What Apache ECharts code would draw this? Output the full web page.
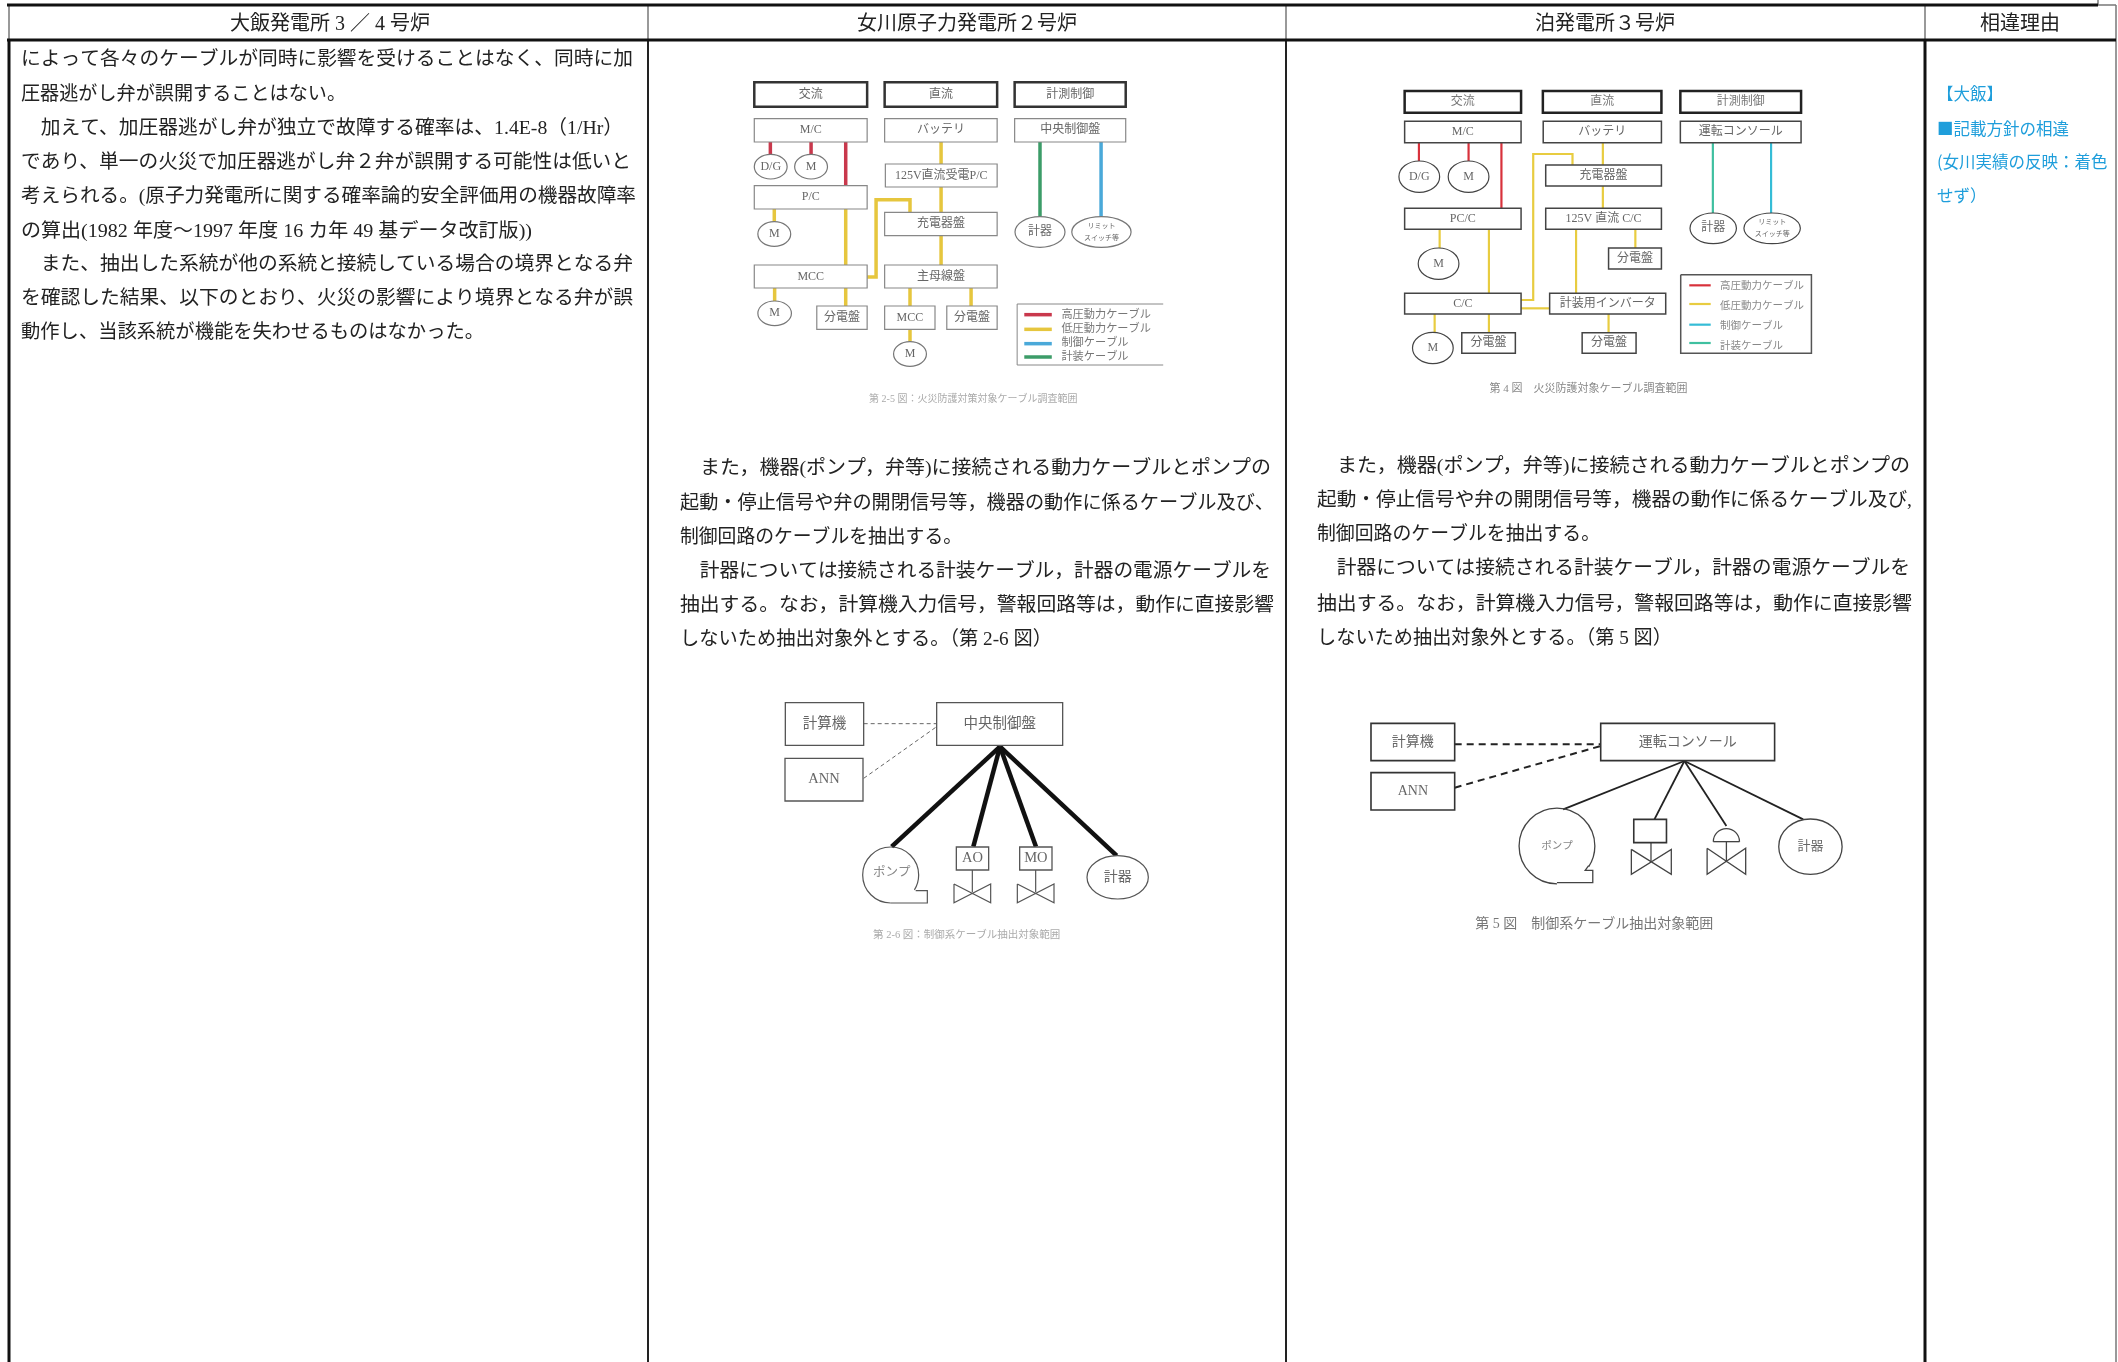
<!DOCTYPE html>
<html>
<head>
<meta charset="utf-8">
<title>比較表</title>
<script src="https://cdn.jsdelivr.net/npm/echarts@6/dist/echarts.min.js"></script>
<style>
html, body { margin: 0; padding: 0; background: #fff; }
#container { width: 2118px; height: 1362px; }
</style>
</head>
<body>
<div id="container"></div>
<script>
window.onload = function() {

var FONT = '"Liberation Serif", "Noto Sans CJK JP", sans-serif';
var CJK = '"Noto Sans CJK JP", sans-serif';

// ---- page text
var headers = [
  ['大飯発電所 3 ／ 4 号炉', 330, 23],
  ['女川原子力発電所２号炉', 967, 23],
  ['泊発電所３号炉', 1605, 23],
  ['相違理由', 2020, 23]
];
var oiLines = [
  ['によって各々のケーブルが同時に影響を受けることはなく、同時に加', 21, 58, 633],
  ['圧器逃がし弁が誤開することはない。', 21, 93, 346],
  ['　加えて、加圧器逃がし弁が独立で故障する確率は、1.4E-8（1/Hr）', 21, 127, 623],
  ['であり、単一の火災で加圧器逃がし弁２弁が誤開する可能性は低いと', 21, 161, 631],
  ['考えられる。(原子力発電所に関する確率論的安全評価用の機器故障率', 21, 195, 636],
  ['の算出(1982 年度～1997 年度 16 カ年 49 基データ改訂版))', 21, 230, 532],
  ['　また、抽出した系統が他の系統と接続している場合の境界となる弁', 21, 263, 633],
  ['を確認した結果、以下のとおり、火災の影響により境界となる弁が誤', 21, 297, 633],
  ['動作し、当該系統が機能を失わせるものはなかった。', 21, 331, 484]
];
var onagawaLines = [
  ['　また，機器(ポンプ，弁等)に接続される動力ケーブルとポンプの', 680, 467, 1271],
  ['起動・停止信号や弁の開閉信号等，機器の動作に係るケーブル及び、', 680, 502, 1274],
  ['制御回路のケーブルを抽出する。', 680, 536, 962],
  ['　計器については接続される計装ケーブル，計器の電源ケーブルを', 680, 570, 1271],
  ['抽出する。なお，計算機入力信号，警報回路等は，動作に直接影響', 680, 604, 1274],
  ['しないため抽出対象外とする。（第 2-6 図）', 680, 638, 1052]
];
var tomariLines = [
  ['　また，機器(ポンプ，弁等)に接続される動力ケーブルとポンプの', 1317, 465, 1910],
  ['起動・停止信号や弁の開閉信号等，機器の動作に係るケーブル及び,', 1317, 499, 1912],
  ['制御回路のケーブルを抽出する。', 1317, 533, 1600],
  ['　計器については接続される計装ケーブル，計器の電源ケーブルを', 1317, 567, 1910],
  ['抽出する。なお，計算機入力信号，警報回路等は，動作に直接影響', 1317, 603, 1912],
  ['しないため抽出対象外とする。（第 5 図）', 1317, 637, 1672]
];
var reasonLines = [
  ['【大飯】', 1937, 93],
  ['■記載方針の相違', 1937, 128],
  ['(女川実績の反映：着色', 1937, 161],
  ['せず）', 1937, 195]
];

// ---- table rules: x1, y1, x2, y2
var heavyRules = [
  [7, 5, 2098, 5], [7, 40, 2116, 40],
  [9, 40, 9, 1362], [1925, 40, 1925, 1362]
];
var midRules = [[648, 40, 648, 1362], [1286, 40, 1286, 1362]];
var greyRules = [
  [9, 5, 9, 40], [648, 5, 648, 40], [1286, 5, 1286, 40], [1925, 5, 1925, 40],
  [2116, 5, 2116, 1362], [2098, 0, 2098, 5], [2098, 5, 2116, 5]
];

// ---- figure 2-5 (onagawa)
var a_heavyBoxes = [[152, 97, 468, 170, '交流'], [517, 97, 832, 170, '直流'], [881, 97, 1192, 170, '計測制御']];
var a_boxes = [
  [152, 206, 468, 276, 'M/C'], [517, 206, 832, 276, 'バッテリ'], [881, 206, 1192, 276, '中央制御盤'],
  [519, 342, 832, 411, '125V直流受電P/C'], [152, 407, 468, 477, 'P/C'], [517, 487, 832, 557, '充電器盤'],
  [152, 645, 468, 714, 'MCC'], [517, 645, 832, 714, '主母線盤'], [327, 768, 468, 838, '分電盤'],
  [517, 768, 658, 838, 'MCC'], [691, 768, 832, 838, '分電盤']
];
var a_ellipses = [
  [198, 350, 46, 37, 'D/G'], [311, 350, 46, 37, 'M'], [208, 552, 46, 37, 'M'], [952, 546, 70, 46, '計器'],
  [1124, 546, 83, 46, 'リミット\nスイッチ等'], [209, 790, 47, 37, 'M'], [588, 912, 46, 37, 'M']
];
var a_red = [[197, 276, 197, 313], [311, 276, 311, 313], [408, 276, 408, 407], [908, 794, 985, 794]];
var a_yellow = [
  [208, 477, 208, 515], [408, 477, 408, 645], [468, 681, 493, 681, 493, 449, 588, 449, 588, 487],
  [675, 276, 675, 342], [675, 411, 675, 487], [675, 557, 675, 645], [209, 714, 209, 753],
  [408, 714, 408, 768], [588, 714, 588, 768], [759, 714, 759, 768], [588, 838, 588, 875], [908, 838, 985, 838]
];
var a_blue = [[1123, 276, 1123, 500], [908, 881, 985, 881]];
var a_green = [[952, 276, 952, 500], [908, 921, 985, 921]];
var a_frame = [[1297, 762, 888, 762, 888, 945, 1297, 945]];
var a_labels = [
  ['高圧動力ケーブル', 1012, 794], ['低圧動力ケーブル', 1012, 836], ['制御ケーブル', 1012, 878], ['計装ケーブル', 1012, 920]
];
var a_caption = ['第 2-5 図：火災防護対策対象ケーブル調査範囲', 765, 1048];

// ---- figure 4 (tomari)
var b_heavyBoxes = [[125, 123, 451, 188, '交流'], [512, 123, 844, 188, '直流'], [897, 123, 1235, 188, '計測制御']];
var b_boxes = [
  [125, 214, 451, 278, 'M/C'], [513, 214, 844, 278, 'バッテリ'], [897, 214, 1235, 278, '運転コンソール'],
  [520, 345, 844, 408, '充電器盤'], [125, 475, 451, 538, 'PC/C'], [520, 475, 844, 538, '125V 直流 C/C'],
  [696, 594, 844, 657, '分電盤'], [125, 730, 451, 792, 'C/C'], [531, 730, 856, 792, '計装用インバータ'],
  [285, 848, 435, 910, '分電盤'], [622, 848, 773, 910, '分電盤']
];
var b_ellipses = [
  [166, 380, 57, 47, 'D/G'], [304, 380, 57, 47, 'M'], [989, 535, 65, 46, '計器'],
  [1154, 535, 79, 46, 'リミット\nスイッチ等'], [220, 641, 57, 47, 'M'], [204, 894, 57, 47, 'M']
];
var b_red = [[165, 278, 165, 333], [304, 278, 304, 333], [396, 278, 396, 475], [922, 706, 982, 706]];
var b_yellow = [
  [680, 278, 680, 345], [680, 408, 680, 475], [223, 538, 223, 594], [361, 538, 361, 730], [605, 538, 605, 730],
  [771, 538, 771, 594], [451, 750, 485, 750, 485, 312, 595, 312, 595, 345], [451, 775, 531, 775],
  [209, 792, 209, 848], [361, 792, 361, 848], [696, 792, 696, 848], [922, 762, 982, 762]
];
var b_blue = [[1151, 278, 1151, 489], [922, 824, 982, 824]];
var b_green = [[988, 278, 988, 489], [922, 879, 982, 879]];
var b_frame = [[898, 674, 1264, 674, 1264, 910, 898, 910, 898, 674]];
var b_labels = [
  ['高圧動力ケーブル', 1008, 708], ['低圧動力ケーブル', 1008, 768], ['制御ケーブル', 1008, 828], ['計装ケーブル', 1008, 888]
];
var b_caption = ['第 4 図　火災防護対象ケーブル調査範囲', 640, 1018];

// ---- figure 2-6 (onagawa)
var c_boxes = [
  [136, 68, 371, 196, '計算機'], [135, 235, 369, 363, 'ANN'], [590, 68, 968, 196, '中央制御盤'],
  [649, 501, 746, 570, 'AO'], [839, 501, 936, 570, 'MO']
];
var c_dashed = [[371, 131, 590, 131], [371, 295, 590, 140]];
var c_cables = [[780, 200, 455, 500], [780, 200, 700, 500], [780, 200, 888, 500], [780, 200, 1130, 527]];
var c_thin = [
  [697, 570, 697, 637], [642, 612, 752, 668, 752, 612, 642, 668, 642, 612],
  [887, 570, 887, 637], [832, 612, 942, 668, 942, 612, 832, 668, 832, 612],
  [452, 669, 562, 669, 562, 632, 527, 632]
];
var c_arcs = [[452, 585, 84, 90, 392]];
var c_ellipses = [[1133, 592, 92, 65, '計器']];
var c_labels = [['ポンプ', 455, 578]];
var c_caption = ['第 2-6 図：制御系ケーブル抽出対象範囲', 680, 767];

// ---- figure 5 (tomari)
var d_boxes = [
  [90, 100, 333, 212, '計算機'], [90, 248, 333, 360, 'ANN'], [757, 100, 1262, 212, '運転コンソール'],
  [853, 388, 948, 458, '']
];
var d_dashed = [[333, 163, 757, 163], [333, 293, 757, 168]];
var d_cables = [[1000, 213, 648, 358], [1000, 213, 913, 388], [1000, 213, 1122, 408], [1000, 213, 1345, 388]];
var d_thin = [
  [903, 458, 903, 515], [846, 478, 962, 553, 962, 478, 846, 553, 846, 478],
  [1122, 455, 1122, 515], [1066, 475, 1178, 553, 1178, 475, 1066, 553, 1066, 475],
  [1084, 455, 1160, 455],
  [630, 578, 734, 578, 734, 541, 712, 541, 722, 527]
];
var d_arcs = [[630, 468, 110, 90, 393], [1122, 455, 38, 180, 360]];
var d_ellipses = [[1366, 470, 92, 83, '計器']];
var d_labels = [['ポンプ', 630, 470]];
var d_caption = ['第 5 図　制御系ケーブル抽出対象範囲', 738, 703];

// ---- rendering helpers
var measure = document.createElement('canvas').getContext('2d');

function points(api, r) {
  var pts = [];
  for (var i = 0; i + 1 < r.length; i += 2) pts.push(api.coord([r[i], r[i + 1]]));
  return pts;
}

function base(ax, rows, renderItem, z) {
  return {
    type: 'custom', coordinateSystem: 'cartesian2d', xAxisIndex: ax, yAxisIndex: ax,
    silent: true, clip: false, animation: false, z: z || 2,
    data: rows.map(function(r, i) { return [i, 0]; }),
    encode: { x: -1, y: -1 },
    renderItem: renderItem
  };
}

function lineSeries(ax, rows, stroke, width, dash) {
  return base(ax, rows, function(p, api) {
    return {
      type: 'polyline', shape: { points: points(api, rows[p.dataIndex]) },
      style: { stroke: stroke, lineWidth: width, fill: null, lineDash: dash || null }
    };
  }, 3);
}

function boxSeries(ax, rows, stroke, width, size, color) {
  return base(ax, rows, function(p, api) {
    var r = rows[p.dataIndex], a = api.coord([r[0], r[1]]), b = api.coord([r[2], r[3]]);
    return {
      type: 'group', children: [
        { type: 'rect', shape: { x: a[0], y: a[1], width: b[0] - a[0], height: b[1] - a[1] },
          style: { fill: '#fff', stroke: stroke, lineWidth: width } },
        { type: 'text', x: (a[0] + b[0]) / 2, y: (a[1] + b[1]) / 2, z2: 5,
          style: { text: r[4], font: size + 'px ' + FONT, fill: color, align: 'center', verticalAlign: 'middle' } }
      ]
    };
  }, 4);
}

function ellipseSeries(ax, rows, stroke, width, size, color) {
  return base(ax, rows, function(p, api) {
    var r = rows[p.dataIndex], c = api.coord([r[0], r[1]]), e = api.coord([r[0] + r[2], r[1] + r[3]]);
    var small = r[4].length > 4;
    return {
      type: 'group', children: [
        { type: 'ellipse', shape: { cx: c[0], cy: c[1], rx: e[0] - c[0], ry: e[1] - c[1] },
          style: { fill: '#fff', stroke: stroke, lineWidth: width } },
        { type: 'text', x: c[0], y: c[1], z2: 5,
          style: { text: r[4], font: (small ? 7 : size) + 'px ' + FONT, lineHeight: small ? 12 : size, fill: color, align: 'center', verticalAlign: 'middle' } }
      ]
    };
  }, 4);
}

function arcSeries(ax, rows, stroke, width) {
  return base(ax, rows, function(p, api) {
    var r = rows[p.dataIndex], c = api.coord([r[0], r[1]]), e = api.coord([r[0] + r[2], r[1]]);
    return {
      type: 'arc',
      shape: { cx: c[0], cy: c[1], r: e[0] - c[0], startAngle: r[3] * Math.PI / 180, endAngle: r[4] * Math.PI / 180, clockwise: true },
      style: { stroke: stroke, lineWidth: width, fill: null }
    };
  }, 3);
}

// a row's optional 4th value is the x where the line ends in the reference
function textSeries(ax, rows, size, color, align, dy, family) {
  var font = size + 'px ' + (family || FONT);
  return base(ax, rows, function(p, api) {
    var r = rows[p.dataIndex], c = api.coord([r[1], r[2]]), sx = 1;
    if (r[3]) {
      measure.font = font;
      sx = (api.coord([r[3], r[2]])[0] - c[0]) / measure.measureText(r[0]).width;
    }
    return {
      type: 'text', x: c[0], y: c[1] + (dy || 0), scaleX: sx,
      style: { text: r[0], font: font, fill: color, align: align, verticalAlign: 'middle' }
    };
  }, 5);
}

// ---- axes: one page grid, one grid per figure crop
var frames = [
  [0, 0, 2118, 1362, 2118, 1362],
  [700, 50, 560, 380, 1568, 1140],
  [1360, 50, 560, 380, 1568, 1140],
  [740, 680, 500, 280, 1500, 840],
  [1340, 690, 540, 260, 1568, 780]
];
var PAGE = 0, FIG_A = 1, FIG_B = 2, FIG_C = 3, FIG_D = 4;

var grids = [], xAxes = [], yAxes = [];
frames.forEach(function(f, i) {
  grids.push({ left: f[0], top: f[1], width: f[2], height: f[3], containLabel: false });
  xAxes.push({ type: 'value', gridIndex: i, min: 0, max: f[4], show: false });
  yAxes.push({ type: 'value', gridIndex: i, min: 0, max: f[5], inverse: true, show: false });
});

var RED = '#c9384c', YELLOW = '#e6c63e', BLUE = '#4aa9d9', GREEN = '#3c9c68';
var CYAN = '#35bcd6', TEAL = '#3fc0a0', RED2 = '#d8323c', YELLOW2 = '#e8cc40';

var series = [
  lineSeries(PAGE, greyRules, '#777', 1.5),
  lineSeries(PAGE, midRules, '#222', 2),
  lineSeries(PAGE, heavyRules, '#111', 3),
  textSeries(PAGE, headers, 20, '#222', 'center', 2),
  textSeries(PAGE, oiLines, 19.7, '#222', 'left', 2),
  textSeries(PAGE, onagawaLines, 19.8, '#222', 'left', 2),
  textSeries(PAGE, tomariLines, 19.8, '#222', 'left', 2),
  textSeries(PAGE, reasonLines, 16.5, '#1f9edb', 'left', 1, CJK),

  lineSeries(FIG_A, a_red, RED, 3.5),
  lineSeries(FIG_A, a_yellow, YELLOW, 3.5),
  lineSeries(FIG_A, a_blue, BLUE, 3.5),
  lineSeries(FIG_A, a_green, GREEN, 3.5),
  lineSeries(FIG_A, a_frame, '#888', 1),
  boxSeries(FIG_A, a_heavyBoxes, '#333', 2.5, 12, '#666'),
  boxSeries(FIG_A, a_boxes, '#888', 1.2, 12, '#666'),
  ellipseSeries(FIG_A, a_ellipses, '#777', 1.2, 12, '#666'),
  textSeries(FIG_A, a_labels, 11.2, '#777', 'left'),
  textSeries(FIG_A, [a_caption], 10, '#aaa', 'center'),

  lineSeries(FIG_B, b_red, RED2, 2.2),
  lineSeries(FIG_B, b_yellow, YELLOW2, 2.2),
  lineSeries(FIG_B, b_blue, CYAN, 2.2),
  lineSeries(FIG_B, b_green, TEAL, 2.2),
  lineSeries(FIG_B, b_frame, '#555', 1.5),
  boxSeries(FIG_B, b_heavyBoxes, '#222', 2.5, 12, '#777'),
  boxSeries(FIG_B, b_boxes, '#444', 1.5, 12, '#666'),
  ellipseSeries(FIG_B, b_ellipses, '#444', 1.2, 12, '#666'),
  textSeries(FIG_B, b_labels, 10.5, '#888', 'left'),
  textSeries(FIG_B, [b_caption], 11, '#888', 'center'),

  lineSeries(FIG_C, c_dashed, '#666', 1, [4, 3]),
  lineSeries(FIG_C, c_cables, '#111', 4.5),
  lineSeries(FIG_C, c_thin, '#555', 1.2),
  arcSeries(FIG_C, c_arcs, '#555', 1.2),
  boxSeries(FIG_C, c_boxes, '#555', 1.3, 14.5, '#666'),
  ellipseSeries(FIG_C, c_ellipses, '#555', 1.2, 14, '#666'),
  textSeries(FIG_C, c_labels, 12.5, '#888', 'center'),
  textSeries(FIG_C, [c_caption], 10.5, '#aaa', 'center'),

  lineSeries(FIG_D, d_dashed, '#222', 2, [7, 5]),
  lineSeries(FIG_D, d_cables, '#222', 1.8),
  lineSeries(FIG_D, d_thin, '#444', 1.3),
  arcSeries(FIG_D, d_arcs, '#444', 1.3),
  boxSeries(FIG_D, d_boxes, '#333', 1.6, 14, '#666'),
  ellipseSeries(FIG_D, d_ellipses, '#444', 1.3, 13, '#666'),
  textSeries(FIG_D, d_labels, 10.5, '#888', 'center'),
  textSeries(FIG_D, [d_caption], 14, '#777', 'center')
];

var chartDom = document.getElementById('container');
var myChart = echarts.init(chartDom, null, { renderer: 'canvas' });
var option = {
  animation: false,
  backgroundColor: '#fff',
  tooltip: { show: false },
  grid: grids,
  xAxis: xAxes,
  yAxis: yAxes,
  series: series
};
option && myChart.setOption(option);

}
</script>
</body>
</html>
